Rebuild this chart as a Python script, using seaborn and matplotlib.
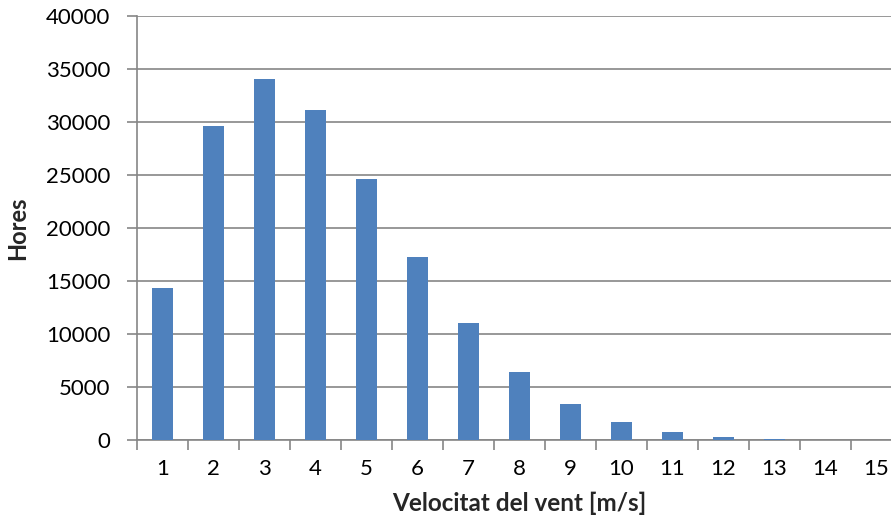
import matplotlib
matplotlib.use("Agg")
import matplotlib.pyplot as plt
import seaborn as sns
import pandas as pd
import numpy as np

speeds = [str(i) for i in range(1, 16)]
hours = [14300, 29600, 34050, 31150, 24650, 17300, 11000, 6400, 3400, 1680, 760, 300, 110, 40, 10]

sns.set_theme(style="white")
plt.rcParams['font.family'] = ['Lato', 'DejaVu Sans']

df = pd.DataFrame({"Velocitat": speeds, "Hores": hours})

W, H = 891, 530
fig = plt.figure(figsize=(W / 100, H / 100), dpi=100)
left, right, top, bottom = 137, 902, 16, 440
ax = fig.add_axes([left / W, (H - bottom) / H, (right - left) / W, (bottom - top) / H])

sns.barplot(data=df, x="Velocitat", y="Hores", order=speeds, color="#4F81BD",
            saturation=1, width=0.4, ax=ax, zorder=3, linewidth=0)

ax.set_xlim(-0.5, 14.5)
ax.set_ylim(0, 40000)
ax.set_yticks(np.arange(0, 40001, 5000))
ax.yaxis.grid(True, color="#868686", linewidth=1.2, zorder=0)
ax.set_axisbelow(True)

for s in ["top", "right"]:
    ax.spines[s].set_visible(False)
for s in ["left", "bottom"]:
    ax.spines[s].set_color("#868686")
    ax.spines[s].set_linewidth(1.2)

ax.tick_params(axis="y", which="major", length=7, width=1.2, color="#868686",
               labelsize=16, labelcolor="black", pad=12, left=True)
ax.tick_params(axis="x", which="major", length=0, labelsize=16, labelcolor="black", pad=14)
ax.set_xticks(np.arange(-0.5, 15.0, 1.0), minor=True)
ax.tick_params(axis="x", which="minor", length=7, width=1.2, color="#868686", bottom=True)

ax.set_xlabel("Velocitat del vent [m/s]", fontsize=17.5, fontweight="bold", labelpad=9)
ax.set_ylabel("Hores", fontsize=17, fontweight="bold", labelpad=12)

fig.savefig("out.png", dpi=100)
